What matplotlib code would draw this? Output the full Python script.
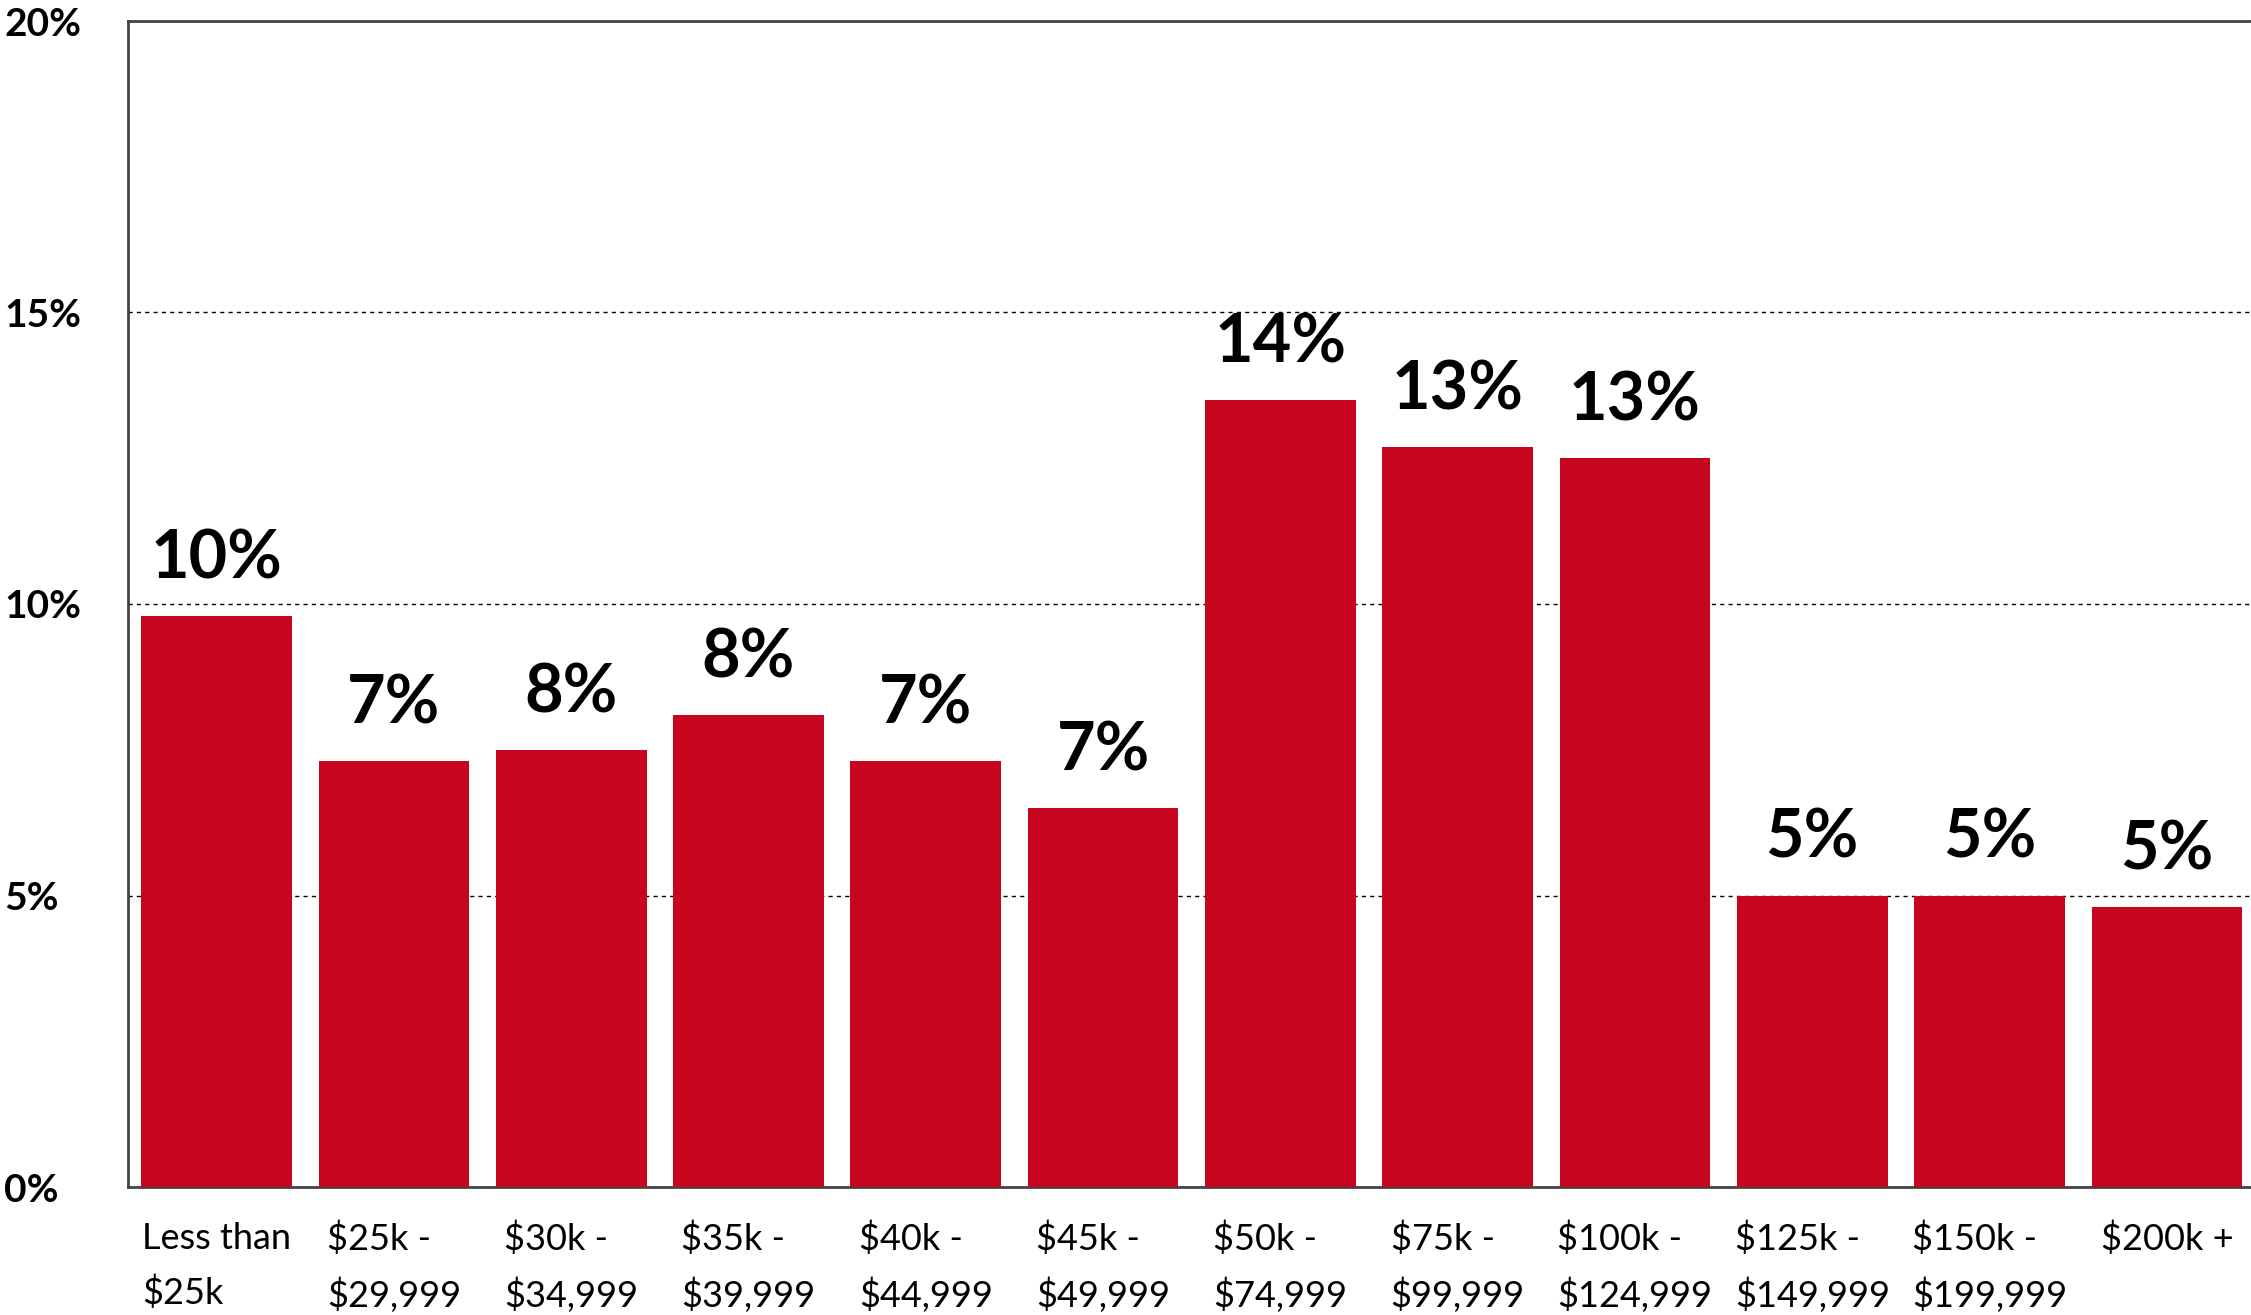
"""Household income distribution bar chart."""
import matplotlib

matplotlib.use("Agg")
import matplotlib.pyplot as plt

plt.rcParams["font.family"] = ["Lato", "DejaVu Sans"]

CATEGORIES = [
    "Less than\n$25k",
    "$25k -\n$29,999",
    "$30k -\n$34,999",
    "$35k -\n$39,999",
    "$40k -\n$44,999",
    "$45k -\n$49,999",
    "$50k -\n$74,999",
    "$75k -\n$99,999",
    "$100k -\n$124,999",
    "$125k -\n$149,999",
    "$150k -\n$199,999",
    "$200k +",
]
SHARE = [9.8, 7.3, 7.5, 8.1, 7.3, 6.5, 13.5, 12.7, 12.5, 5.0, 5.0, 4.8]
DATA_LABELS = ["10%", "7%", "8%", "8%", "7%", "7%", "14%", "13%", "13%", "5%", "5%", "5%"]
Y_TICKS = [0, 5, 10, 15, 20]

BAR_COLOR = "#C8051F"
SPINE_COLOR = "#444444"

fig = plt.figure(figsize=(22.51, 13.15), dpi=100)
ax = fig.add_axes([128 / 2251, 128 / 1315, 1 - 128 / 2251 + 0.002, (1187 - 21) / 1315])

x = list(range(len(CATEGORIES)))
bars = ax.bar(x, SHARE, width=0.85, color=BAR_COLOR, zorder=3)

for rect, lab in zip(bars, DATA_LABELS):
    ax.annotate(lab, (rect.get_x() + rect.get_width() / 2, rect.get_height()),
                xytext=(0, 27), textcoords="offset points",
                ha="center", va="baseline", fontsize=48, fontweight="bold", zorder=4)

ax.set_xlim(-0.5, len(CATEGORIES) - 0.5)
ax.set_ylim(0, 20)
ax.set_yticks(Y_TICKS)
ax.set_yticklabels([f"{t}%" for t in Y_TICKS], fontsize=28, fontweight="bold", ha="left")
ax.tick_params(axis="y", length=0, pad=89)
ax.set_xticks(x)
ax.set_xticklabels(CATEGORIES, fontsize=26, linespacing=1.72, multialignment="left")
ax.tick_params(axis="x", length=0, pad=25)

ax.yaxis.grid(True, linestyle=(0, (3, 3)), color="black", linewidth=1.0, zorder=1)
for side in ("left", "bottom", "top"):
    ax.spines[side].set_color(SPINE_COLOR)
    ax.spines[side].set_linewidth(2)
ax.spines["right"].set_visible(False)

fig.savefig("out.png", dpi=100)
